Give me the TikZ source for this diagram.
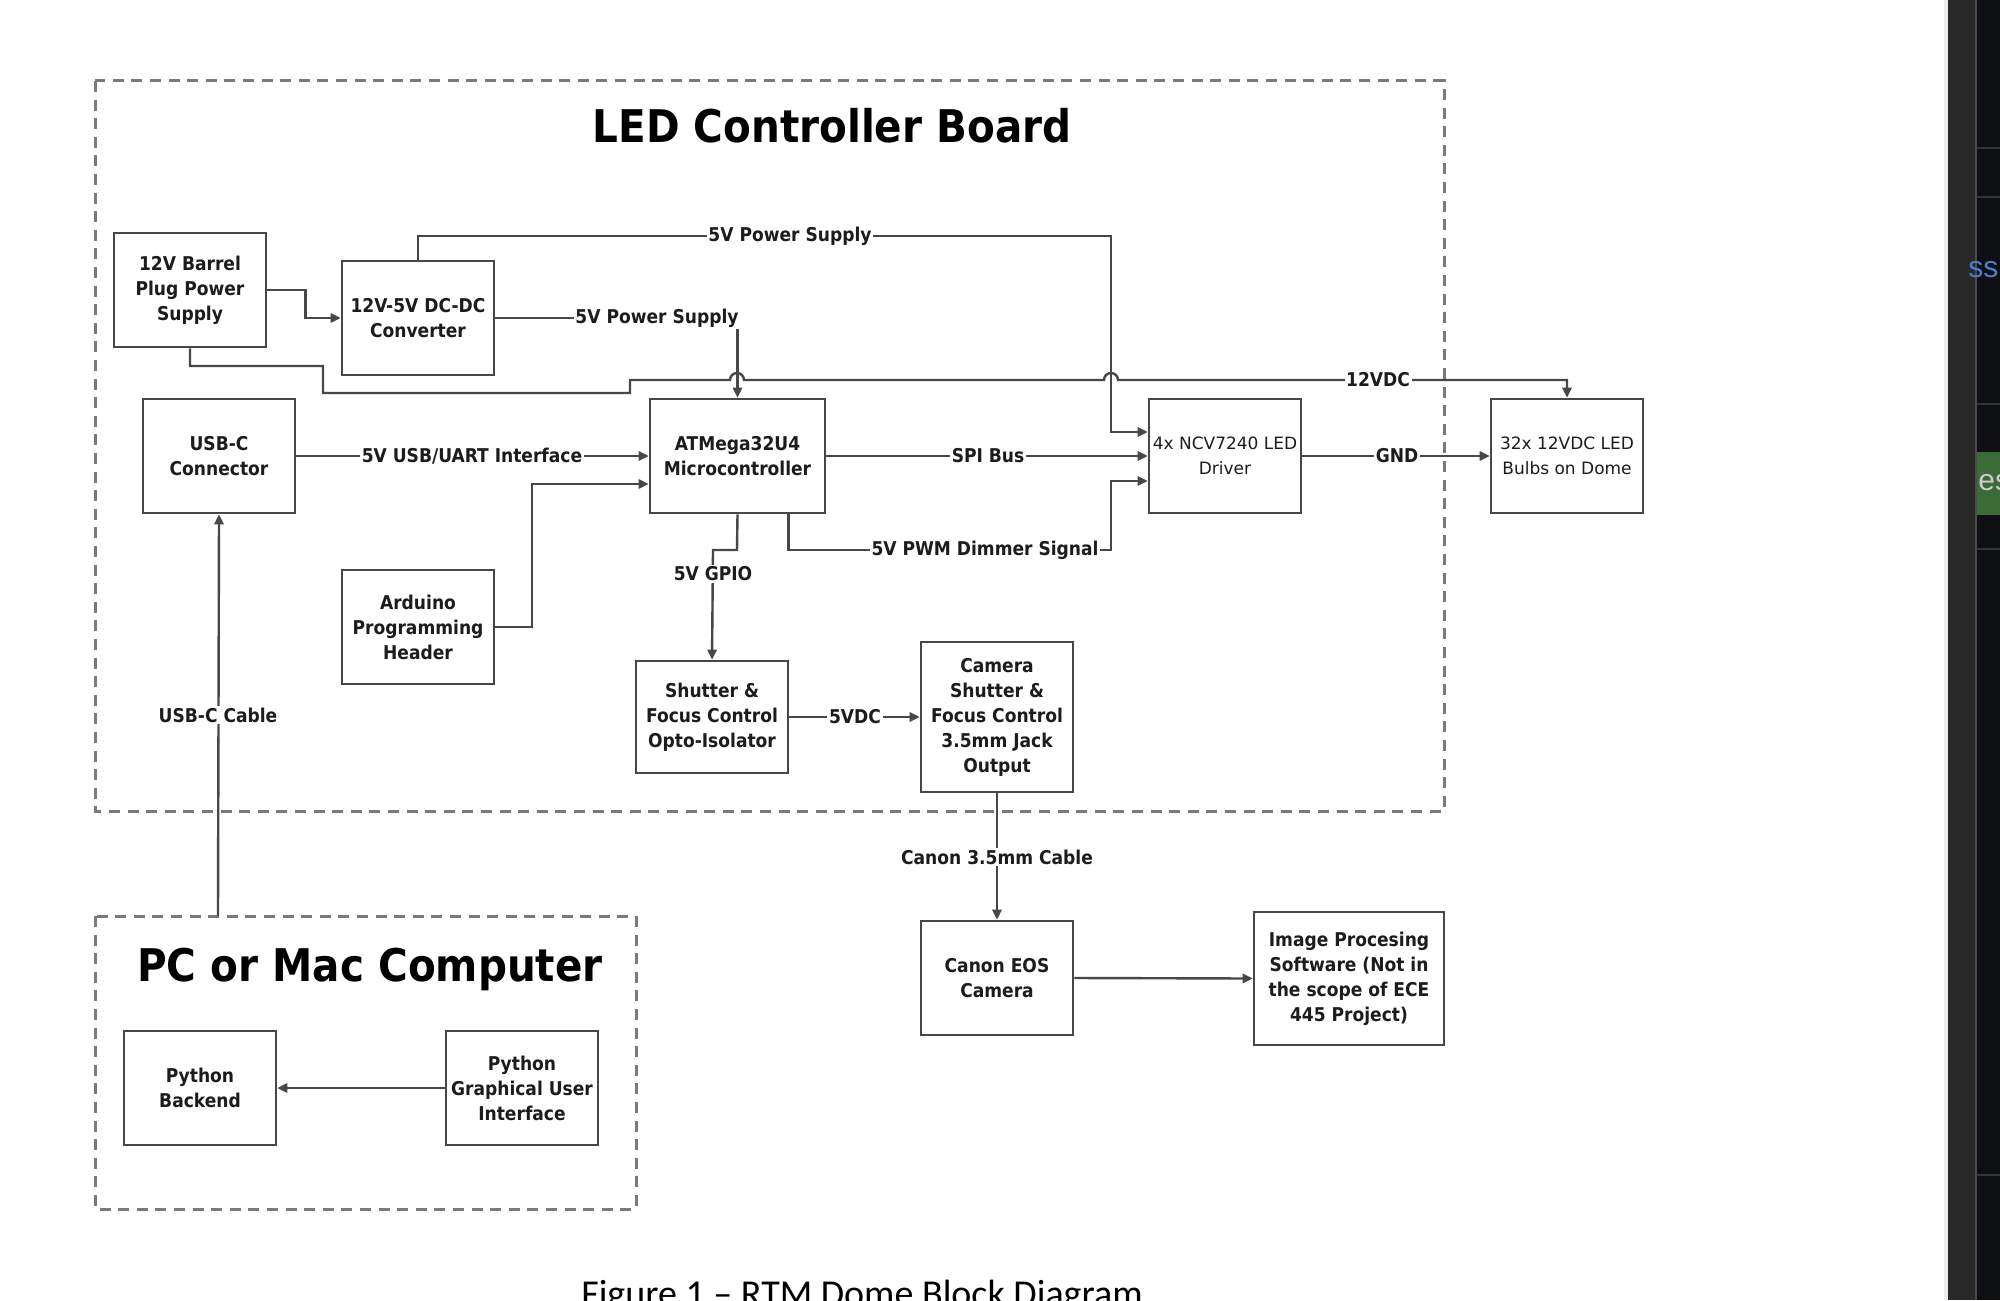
\documentclass[tikz,border=0pt]{standalone}
\usepackage{fontspec}
\setmainfont{DejaVu Sans}
\newfontfamily\boxfont{DejaVu Sans Condensed}
\newfontfamily\thinfont{DejaVu Sans}
\newfontfamily\capfont{Carlito}
\newfontfamily\uifont{Liberation Sans}
\usetikzlibrary{arrows.meta}

\definecolor{wiregray}{HTML}{474747}
\definecolor{dashgray}{HTML}{7A7A7A}
\definecolor{txtgray}{HTML}{1C1C1C}
\definecolor{panelgray}{HTML}{282828}
\definecolor{paneldark}{HTML}{0E0F13}
\definecolor{panelline}{HTML}{34363A}
\definecolor{panelgreen}{HTML}{3B6B36}
\definecolor{uiblue}{HTML}{4A7FD0}

\tikzset{
 blk/.style={draw=wiregray, line width=1.3pt, fill=white, align=center, inner sep=0pt,
   text=txtgray, font=\boxfont\bfseries\fontsize{9.5}{12.5}\selectfont,
   minimum width=76pt, minimum height=57pt},
 thin text/.style={font=\thinfont\fontsize{8.5}{12.5}\selectfont},
 wire/.style={draw=wiregray, line width=1.2pt},
 arr/.style={wire, -{Triangle[length=5pt,width=4.6pt]}},
 lbl/.style={fill=white, inner sep=0.8pt, text=txtgray, font=\boxfont\bfseries\fontsize{9.5}{11}\selectfont},
 board/.style={draw=dashgray, line width=1.5pt, dash pattern=on 5.5pt off 3.8pt},
 boardtitle/.style={text=black, font=\boxfont\bfseries\fontsize{22.5}{26}\selectfont, anchor=base},
}

\begin{document}
\begin{tikzpicture}[x=0.5pt, y=-0.5pt]
\clip (0,0) rectangle (2000,1300);
\fill[white] (0,0) rectangle (2000,1300);

% screen edge on the right
\fill[gray!15] (1944,0) rectangle (1948,1300);
\fill[panelgray] (1948,0) rectangle (1975,1300);
\fill[gray!60!black] (1975,0) rectangle (1977,1300);
\fill[paneldark] (1977,0) rectangle (2000,1300);
\foreach \y in {148,197,404,549,1175}
  \draw[panelline, line width=1pt] (1977,\y) -- (2000,\y);
\fill[panelgreen] (1977,452) rectangle (2000,515);
\node[anchor=west, inner sep=0, text=gray!40, font=\uifont\fontsize{15}{15}\selectfont] (uies) at (1978,483) {es};
\node[anchor=west, inner sep=0, text=uiblue, font=\uifont\fontsize{15}{15}\selectfont] (uiss) at (1968,270) {ss};

% dashed boards
\draw[board] (95,81) rectangle (1444,811);
\draw[board] (95,916) rectangle (636,1209);
\node[boardtitle] (ledtitle) at (832,143) {LED Controller Board};
\node[boardtitle] (pctitle) at (370,981) {PC or Mac Computer};

% blocks
\node[blk] (barrel) at (190,290) {12V Barrel\\Plug Power\\Supply};
\node[blk] (dcdc) at (418,318) {12V-5V DC-DC\\Converter};
\node[blk] (usbc) at (219,456) {USB-C\\Connector};
\node[blk, minimum width=87.5pt] (mcu) at (737.5,456) {ATMega32U4\\Microcontroller};
\node[blk] (arduino) at (418,627) {Arduino\\Programming\\Header};
\node[blk, thin text] (driver) at (1225,456) {4x NCV7240 LED\\Driver};
\node[blk, thin text] (bulbs) at (1567,456) {32x 12VDC LED\\Bulbs on Dome};
\node[blk, minimum height=56pt] (opto) at (712,717) {Shutter \&\\Focus Control\\Opto-Isolator};
\node[blk, minimum height=75pt] (jack) at (997,717) {Camera\\Shutter \&\\Focus Control\\3.5mm Jack\\Output};
\node[blk] (canon) at (997,978) {Canon EOS\\Camera};
\node[blk, minimum width=95pt, minimum height=66.5pt] (imgsw) at (1349,978.5) {Image Procesing\\Software (Not in\\the scope of ECE\\445 Project)};
\node[blk] (pyback) at (200,1088) {Python\\Backend};
\node[blk] (pygui) at (522,1088) {Python\\Graphical User\\Interface};

% power
\draw[arr] (barrel.east) -- ++(38,0) |- (dcdc.west);
\draw[arr] (barrel.south) -- (190,366) -- (323,366) -- (323,393) -- (630,393) -- (630,380)
  -- (730,380) arc[start angle=180, end angle=360, radius=7] -- (1104,380)
  arc[start angle=180, end angle=360, radius=7] -| (bulbs.north);
\draw[arr] (dcdc.north) |- (1111,236) -- (1111,432) -- ([yshift=12pt]driver.west);
\draw[arr] (dcdc.east) -| (mcu.north);

% signals
\draw[arr] (usbc.east) -- (mcu.west);
\draw[arr] (arduino.east) -- (532,627) |- ([yshift=-14pt]mcu.west);
\draw[arr] (mcu.east) -- (driver.west);
\draw[arr] ([xshift=25.5pt]mcu.south) |- (1111,550) -- (1111,481) -- ([yshift=-12.5pt]driver.west);
\draw[arr] (mcu.south) -- (737,550) -- (713,550) -- (opto.north);
\draw[arr] (driver.east) -- (bulbs.west);
\draw[arr] (opto.east) -- (jack.west);
\draw[arr] (jack.south) -- (canon.north);
\draw[arr] (canon.east) -- (imgsw.west);
\draw[arr] (pygui.west) -- (pyback.east);
\draw[arr] (218,916) -- (usbc.south);

% labels
\node[lbl] (ltop) at (790,236) {5V Power Supply};
\node[lbl] (lmid) at (657,318) {5V Power Supply};
\node[lbl] (l12v) at (1378,380) {12VDC};
\node[lbl] (luart) at (472,456) {5V USB/UART Interface};
\node[lbl] (lspi) at (988,456) {SPI Bus};
\node[lbl] (lgnd) at (1397,456) {GND};
\node[lbl] (lpwm) at (985,550) {5V PWM Dimmer Signal};
\node[lbl] (lgpio) at (713,574) {5V GPIO};
\node[lbl] (l5vdc) at (855,717) {5VDC};
\node[lbl] (lcable) at (997,857) {Canon 3.5mm Cable};
\node[lbl] (lusb) at (218,715) {USB-C Cable};

\node[anchor=base, inner sep=0, text=black, font=\capfont\fontsize{19}{22}\selectfont] (caption) at (862,1306) {Figure 1 – RTM Dome Block Diagram};
\end{tikzpicture}
\end{document}
